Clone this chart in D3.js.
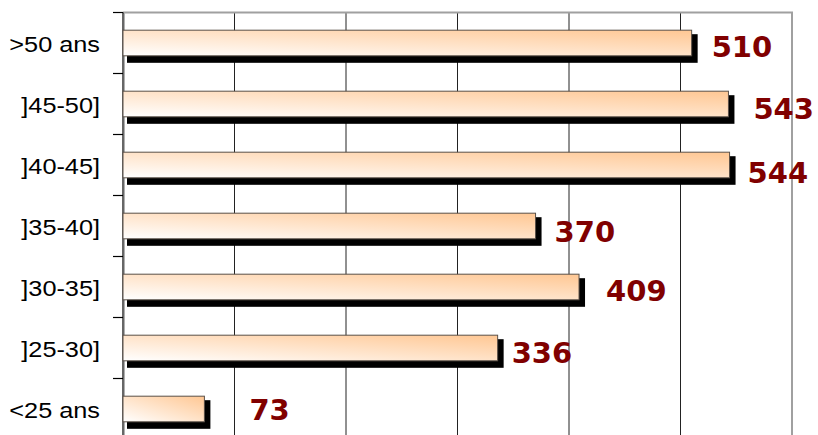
<!DOCTYPE html>
<html>
<head>
<meta charset="utf-8">
<script src="https://cdn.jsdelivr.net/npm/d3@7"></script>
<style>
  body { margin: 0; background: #fff; }
  svg { display: block; }
</style>
</head>
<body>
<svg id="chart" width="818" height="435"></svg>
<script>
// age groups, top to bottom
const categories = [">50 ans", "]45-50]", "]40-45]", "]35-40]", "]30-35]", "]25-30]", "<25 ans"];
const values = [510, 543, 544, 370, 409, 336, 73];
const xTicks = [0, 100, 200, 300, 400, 500, 600];

// where the value labels sit relative to the bar end (px), as in the original
const labelDx = [20, 25, 18, 19, 27, 14, 45];
const labelDy = [3, 4, 7, 5, 3, 4, 0];

const svg = d3.select("#chart");

const plot = { left: 123, right: 792, top: 12.5, bottom: 439.5 };

const x = d3.scaleLinear()
  .domain([0, 600])
  .range([plot.left, plot.right]);

const y = d3.scaleBand()
  .domain(categories)
  .range([plot.top, plot.bottom])
  .paddingInner(0.58)
  .paddingOuter(0.29);

const step = y.step();

const defs = svg.append("defs");
const grad = defs.append("linearGradient")
  .attr("id", "barFill")
  .attr("x1", 0).attr("y1", 1)
  .attr("x2", 1).attr("y2", 0);
grad.append("stop").attr("offset", "0%").attr("stop-color", "#ffffff");
grad.append("stop").attr("offset", "100%").attr("stop-color", "#ffc793");

// vertical gridlines
svg.append("g")
  .selectAll("line")
  .data(xTicks.filter(d => d > 0 && d < 600))
  .enter()
  .append("line")
  .attr("x1", d => x(d)).attr("x2", d => x(d))
  .attr("y1", plot.top).attr("y2", plot.bottom)
  .attr("stroke", "#222")
  .attr("stroke-width", 1);

// plot border (grey, top and right)
svg.append("path")
  .attr("d", `M${plot.left},${plot.top}H${plot.right}V${plot.bottom}`)
  .attr("fill", "none")
  .attr("stroke", "#a0a0a0")
  .attr("stroke-width", 2);

svg.append("line")
  .attr("x1", plot.left + 1.5).attr("x2", plot.left + 1.5)
  .attr("y1", plot.top).attr("y2", plot.bottom)
  .attr("stroke", "#b0b0b0")
  .attr("stroke-width", 1);

// left axis with ticks on band boundaries
const yAxis = svg.append("g");
yAxis.append("line")
  .attr("x1", plot.left).attr("x2", plot.left)
  .attr("y1", plot.top).attr("y2", plot.bottom)
  .attr("stroke", "#000")
  .attr("stroke-width", 1.2);

yAxis.selectAll(".tick-mark")
  .data(d3.range(categories.length + 1))
  .enter()
  .append("line")
  .attr("class", "tick-mark")
  .attr("x1", plot.left - 10).attr("x2", plot.left)
  .attr("y1", i => plot.top + i * step)
  .attr("y2", i => plot.top + i * step)
  .attr("stroke", "#000")
  .attr("stroke-width", 1.2);

yAxis.selectAll(".cat-label")
  .data(categories)
  .enter()
  .append("text")
  .attr("class", "cat-label")
  .attr("text-anchor", "end")
  .attr("transform", d => `translate(100,${y(d) + y.bandwidth() / 2 + 8.5}) scale(1.15,1)`)
  .style("font-family", "'Liberation Sans', Arial, sans-serif")
  .style("font-size", "22px")
  .attr("fill", "#000")
  .text(d => d);

const rows = categories.map((c, i) => ({ cat: c, value: values[i], i: i }));

// shadows
svg.selectAll(".bar-shadow")
  .data(rows)
  .enter()
  .append("rect")
  .attr("class", "bar-shadow")
  .attr("x", d => x(0) + 4)
  .attr("y", d => y(d.cat) + 4)
  .attr("width", d => x(d.value) - x(0) + 2)
  .attr("height", y.bandwidth() + 3)
  .attr("fill", "#000");

// bars
svg.selectAll(".bar")
  .data(rows)
  .enter()
  .append("rect")
  .attr("class", "bar")
  .attr("x", x(0))
  .attr("y", d => y(d.cat))
  .attr("width", d => x(d.value) - x(0))
  .attr("height", y.bandwidth())
  .attr("fill", "url(#barFill)")
  .attr("stroke", "#5a5048")
  .attr("stroke-width", 1);

// value labels
svg.selectAll(".value-label")
  .data(rows)
  .enter()
  .append("text")
  .attr("class", "value-label")
  .attr("x", d => x(d.value) + labelDx[d.i])
  .attr("y", d => y(d.cat) + y.bandwidth() / 2 + 11 + labelDy[d.i])
  .style("font-family", "'DejaVu Sans', Verdana, sans-serif")
  .style("font-weight", "bold")
  .style("font-size", "29px")
  .attr("fill", "#800000")
  .text(d => d.value);
</script>
</body>
</html>
